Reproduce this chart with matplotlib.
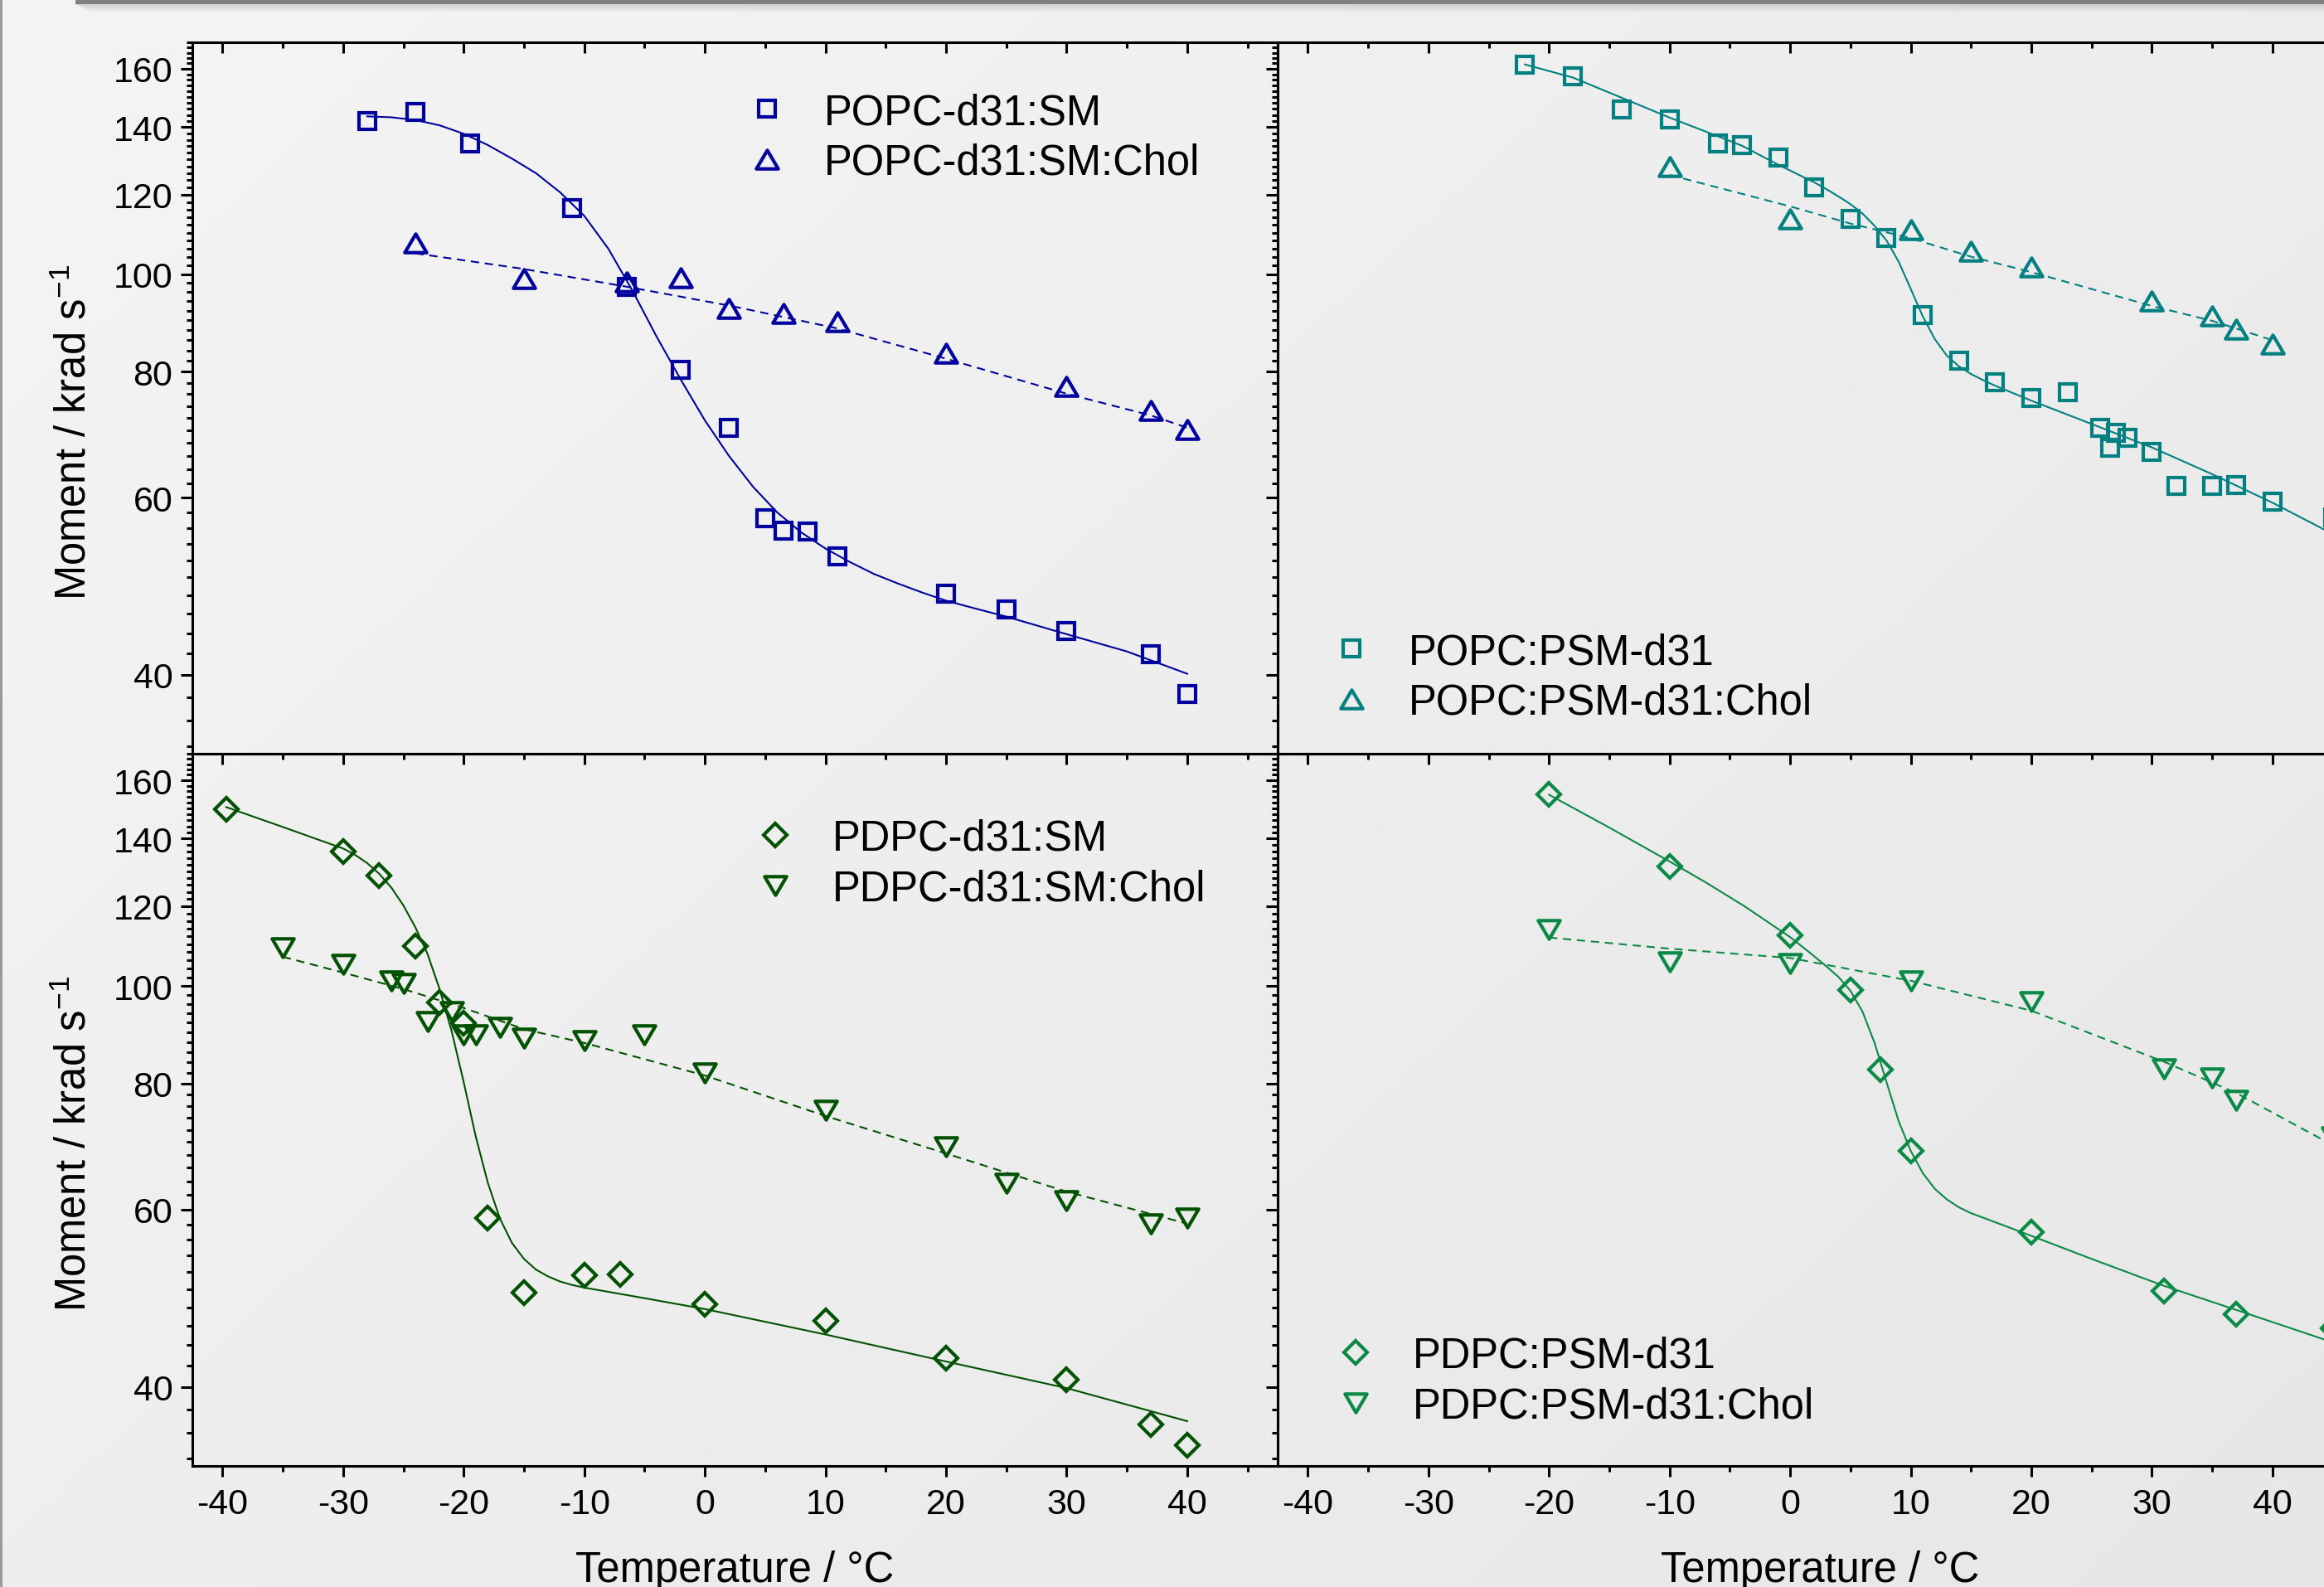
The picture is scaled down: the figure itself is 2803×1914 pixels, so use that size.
import numpy as np
import matplotlib
matplotlib.use('Agg')
import matplotlib.pyplot as plt
from matplotlib.path import Path
from matplotlib.patches import Rectangle
from matplotlib.ticker import FixedLocator, NullFormatter

plt.rcParams['font.family'] = ['Liberation Sans', 'DejaVu Sans']
plt.rcParams['axes.unicode_minus'] = False
plt.rcParams['mathtext.fontset'] = 'custom'
plt.rcParams['mathtext.rm'] = 'Liberation Sans'

# ---- data (T in degC, moment in krad/s) ----
# top left: POPC-d31:SM / POPC-d31:SM:Chol
t_popc_sm = [-28, -24, -19.5, -11, -6.5, -2, 2, 5, 6.5, 8.5, 11, 20, 25, 30, 37, 40]
m_popc_sm = [141.9, 144.9, 134.9, 116.4, 97.2, 80.3, 70.4, 57.2, 55.6, 55.5, 52.5, 48.2, 46.5, 44.2, 41.9, 38.3]
t_popc_chol = [-24, -15, -6.5, -2, 2, 6.5, 11, 20, 30, 37, 40]
m_popc_chol = [107.4, 99.1, 98.3, 99.2, 92.4, 91.5, 89.7, 83.5, 77.4, 73.2, 70.1]
fit_t_popc_sm = [-28, -26, -24, -22, -20, -18, -16, -14, -12, -10, -8, -6, -4, -2, 0, 2, 4, 6, 8,
                 10, 12, 14, 16, 18, 20, 22, 25, 30, 35, 40]
fit_m_popc_sm = [143.5, 143.2, 142.3, 140.6, 137.9, 134.4, 130.3, 126.0, 120.6, 114.3, 106.0, 96.3, 86.7,
                 78.6, 71.6, 66.0, 61.5, 58.0, 55.4, 53.4, 51.8, 50.4, 49.3, 48.3, 47.4, 46.7, 45.7, 43.9, 42.2, 40.1]
fit_t_popc_chol = [-24, -15.2, -6.5, 2.2, 10.9, 19.6, 30, 37, 40]
fit_m_popc_chol = [104.9, 101.3, 97.2, 93, 88.4, 82.7, 76.1, 72.4, 70.4]

# top right: POPC:PSM-d31 / POPC:PSM-d31:Chol
t_psm = [-22, -18, -14, -10, -6, -4, -1, 2, 5, 8, 11, 14, 17, 20, 23, 25.7, 26.5, 27, 28, 30, 32, 35, 37, 40, 45]
m_psm = [161.6, 157.3, 145.9, 142.6, 134.9, 134.4, 130.5, 122.1, 113.6, 108.6, 91.1, 82.1, 78.1, 75.3, 76.3,
         70.4, 67.3, 69.6, 68.8, 66.6, 61.6, 61.6, 61.8, 59.5, 57.3]
t_psm_chol = [-10, 0, 10, 15, 20, 30, 35, 37, 40]
m_psm_chol = [127.9, 113.6, 110.8, 105.4, 101.6, 94.0, 90.9, 88.2, 85.3]
fit_t_psm = [-22, -18, -14, -10, -7, -4, -1, 2, 3, 4, 5, 6, 7, 8, 9, 10, 11, 12, 13, 14, 15, 16, 17,
             20, 25, 30, 35, 40, 45]
fit_m_psm = [161.6, 156.8, 149.8, 143.1, 138.6, 134.2, 128.5, 123.4, 121.5, 119.5, 117.4, 114.9, 111.7,
             108.0, 102.9, 96.7, 90.8, 86.2, 83.0, 81.0, 79.6, 78.5, 77.5, 74.9, 71.0, 67.3, 63.3, 59.3, 55.2]
fit_t_psm_chol = [-10, 0, 5, 10, 15, 20, 30, 35, 40]
fit_m_psm_chol = [125.5, 116.8, 112.3, 108.6, 104.1, 100.5, 93, 89.9, 86]

# bottom left: PDPC-d31:SM / PDPC-d31:SM:Chol
t_pdpc_sm = [-39.7, -30, -27, -24, -22, -20, -18, -15, -10, -7, 0, 10, 20, 30, 37, 40]
m_pdpc_sm = [149.6, 136, 128.7, 109.5, 96.3, 91.9, 58.9, 49.6, 51.6, 51.7, 48.3, 46.5, 42.7, 40.7, 36.7, 35.0]
t_pdpc_chol = [-35, -30, -26, -25, -23, -21, -20, -19, -17, -15, -10, -5, 0, 10, 20, 25, 30, 37, 40]
m_pdpc_chol = [109.2, 105, 101.2, 100.5, 92.2, 94.3, 89.4, 89.4, 90.9, 88.7, 88.3, 89.4, 82, 75.3, 69.2, 63.7, 61.2, 58.1, 58.9]
fit_t_pdpc_sm = [-39.7, -37, -35, -32.5, -30, -29, -28, -27, -26, -25, -24, -23, -22, -21, -20, -19, -18,
                 -17, -16, -15, -14, -13, -12, -11, -10, -5, 0, 10, 20, 30, 40]
fit_m_pdpc_sm = [150.5, 146.6, 143.8, 140.3, 136.9, 134.9, 132.4, 129.2, 125.2, 120.2, 114.3, 107.6, 99.3,
                 90.2, 80.3, 70.9, 63.8, 58.8, 55.6, 53.6, 52.3, 51.5, 50.9, 50.5, 50.2, 49.0, 47.8, 45.1,
                 42.4, 39.9, 37.0]
fit_t_pdpc_chol = [-35, -30, -25, -20, -15, -10, 0, 10, 20, 30, 40]
fit_m_pdpc_chol = [106.9, 103.1, 99.3, 95.1, 90.6, 87.8, 81.5, 74.3, 68.2, 62.5, 58.1]

# bottom right: PDPC:PSM-d31 / PDPC:PSM-d31:Chol
t_pdpc_psm = [-20, -10, 0, 5, 7.5, 10, 20, 31, 37, 45]
m_pdpc_psm = [154.8, 131.4, 112.2, 99.1, 82.6, 68.6, 57.0, 49.8, 47.2, 45.7]
t_pdpc_psm_chol = [-20, -10, 0, 10, 20, 31, 35, 37, 45]
m_pdpc_psm_chol = [113.8, 105.6, 105.2, 101.2, 96.5, 82.8, 81, 77, 70.8]
fit_t_pdpc_psm = [-20, -15, -10, -7, -3.8, 0, 1.5, 3, 4, 5, 6, 7, 8, 9, 10, 11, 12, 13, 14, 15, 16,
                  20, 25, 31, 37, 45]
fit_m_pdpc_psm = [154.8, 143.6, 132.9, 126.7, 120.0, 111.8, 108.2, 104.6, 102.1, 98.9, 94.3, 87.8, 80.2,
                  73.4, 68.6, 65.2, 62.9, 61.4, 60.3, 59.5, 58.9, 56.5, 53.6, 50.4, 47.7, 44.3]
fit_t_pdpc_psm_chol = [-20, -10, 0, 10, 20, 31, 37, 45]
fit_m_pdpc_psm_chol = [111.7, 108.9, 106.6, 101.2, 94.5, 84.1, 78.3, 69.5]

y_major = [40, 60, 80, 100, 120, 140, 160]
y_minor = [v for v in range(34, 171, 2) if v not in y_major]
x_major = [-40, -30, -20, -10, 0, 10, 20, 30, 40]
x_minor = [-35, -25, -15, -5, 5, 15, 25, 35, 45]

# wider, flatter triangles like the original symbols
tri_up = Path([(-1, -0.85), (1, -0.85), (0, 0.85), (-1, -0.85)],
              [Path.MOVETO, Path.LINETO, Path.LINETO, Path.CLOSEPOLY])
tri_dn = Path([(-1, 0.85), (1, 0.85), (0, -0.85), (-1, 0.85)],
              [Path.MOVETO, Path.LINETO, Path.LINETO, Path.CLOSEPOLY])

W, H = 2803, 1915
fig = plt.figure(figsize=(W / 100, H / 100), dpi=100)

# background: soft grey gradient, top bar with shadow, left border
bg = fig.add_axes([0, 0, 1, 1], zorder=-1)
yy, xx = np.mgrid[0:1:200j, 0:1:300j]
bg.imshow(0.955 - 0.03 * xx - 0.022 * yy, cmap='gray', vmin=0, vmax=1,
          extent=[0, W, H, 0], aspect='auto', interpolation='bilinear')
bg.set_xlim(0, W)
bg.set_ylim(H, 0)
bg.axis('off')
bg.add_patch(Rectangle((91, 0), W, 5.5, color='#808080', lw=0))
bg.add_patch(Rectangle((91, 5.5), W, 1.5, color='#d4d4d4', lw=0))
for i in range(9):
    bg.add_patch(Rectangle((95 + 2 * i, 7 + i), W, 1, color='black', alpha=0.12 * (1 - i / 9), lw=0))
bg.add_patch(Rectangle((0, 0), 3, H, color='#9a9a9a', lw=0))

xl, xr, pw = 232 / W, 1541 / W, 1309 / W
pos = {
    'tl': [xl, (H - 910) / H, pw, 858 / H],
    'tr': [xr, (H - 910) / H, pw, 858 / H],
    'bl': [xl, (H - 1769) / H, pw, 859 / H],
    'br': [xr, (H - 1769) / H, pw, 859 / H],
}

LW = 2.2


def panel(key, col, pts1, pts2, fit1, fit2, mk1, mk2, labels, leg_at):
    ax = fig.add_axes(pos[key])
    ax.set_facecolor('none')
    ax.plot(fit1[0], fit1[1], color=col, lw=1.5, zorder=2)
    ax.plot(fit2[0], fit2[1], color=col, lw=1.5, ls=(0, (4.8, 3.3)), zorder=2)
    ms1 = 19 if isinstance(mk1, Path) else 14.5
    ms2 = 19 if isinstance(mk2, Path) else 14.5
    h1, = ax.plot(pts1[0], pts1[1], ls='none', marker=mk1, ms=ms1, mfc='none', mec=col, mew=3.0, zorder=3)
    h2, = ax.plot(pts2[0], pts2[1], ls='none', marker=mk2, ms=ms2, mfc='none', mec=col, mew=3.0, zorder=3)

    ax.set_yscale('log')
    ax.set_xlim(-42.5, 47.5)
    ax.set_ylim(33.4, 170)
    ax.set_yticks(y_major, labels=[str(v) for v in y_major])
    ax.yaxis.set_minor_locator(FixedLocator(y_minor))
    ax.yaxis.set_minor_formatter(NullFormatter())
    ax.set_xticks(x_major, labels=[str(v) for v in x_major])
    ax.xaxis.set_minor_locator(FixedLocator(x_minor))
    for s in ax.spines.values():
        s.set_linewidth(LW)

    left = key.endswith('l')
    top = key.startswith('t')
    ax.tick_params(axis='y', which='both', direction='out', left=True, right=False,
                   width=LW, labelleft=left, labelsize=31, pad=7)
    ax.tick_params(axis='y', which='major', length=10)
    ax.tick_params(axis='y', which='minor', length=5)
    if top:
        ax.tick_params(axis='x', which='both', direction='in', top=True, bottom=False,
                       labelbottom=False, width=LW)
    else:
        ax.tick_params(axis='x', which='both', direction='out', top=False, bottom=True,
                       labelbottom=True, labelsize=31, pad=9, width=LW)
        sec = ax.secondary_xaxis('top')
        sec.set_xticks(x_major)
        sec.xaxis.set_minor_locator(FixedLocator(x_minor))
        sec.tick_params(axis='x', which='both', direction='in', labeltop=False, width=LW)
        sec.tick_params(axis='x', which='major', length=9.5)
        sec.tick_params(axis='x', which='minor', length=5)
        sec.spines['top'].set_linewidth(LW)
        ax.set_xlabel('Temperature / °C', fontsize=36.5)
        ax.xaxis.set_label_coords(0.5, -0.1176)
    ax.tick_params(axis='x', which='major', length=9.5)
    ax.tick_params(axis='x', which='minor', length=5)

    if left:
        ax.set_ylabel('Moment / krad s$^{\\mathregular{-1}}$', fontsize=36.5)
        ax.yaxis.set_label_coords(-0.0898, 0.4526 if top else 0.454)

    ax.legend([h1, h2], labels, loc='upper left', bbox_to_anchor=leg_at, frameon=False,
              borderpad=0, borderaxespad=0, handlelength=1.0, handletextpad=0.86,
              labelspacing=0.23, numpoints=1, fontsize=36.5)
    return ax


panel('tl', '#00009e', (t_popc_sm, m_popc_sm), (t_popc_chol, m_popc_chol),
      (fit_t_popc_sm, fit_m_popc_sm), (fit_t_popc_chol, fit_m_popc_chol),
      's', tri_up, ['POPC-d31:SM', 'POPC-d31:SM:Chol'], (0.5103, 0.930))
panel('tr', '#008080', (t_psm, m_psm), (t_psm_chol, m_psm_chol),
      (fit_t_psm, fit_m_psm), (fit_t_psm_chol, fit_m_psm_chol),
      's', tri_up, ['POPC:PSM-d31', 'POPC:PSM-d31:Chol'], (0.0486, 0.1713))
panel('bl', '#005200', (t_pdpc_sm, m_pdpc_sm), (t_pdpc_chol, m_pdpc_chol),
      (fit_t_pdpc_sm, fit_m_pdpc_sm), (fit_t_pdpc_chol, fit_m_pdpc_chol),
      'D', tri_dn, ['PDPC-d31:SM', 'PDPC-d31:SM:Chol'], (0.5179, 0.9095))
panel('br', '#0a8a46', (t_pdpc_psm, m_pdpc_psm), (t_pdpc_psm_chol, m_pdpc_psm_chol),
      (fit_t_pdpc_psm, fit_m_pdpc_psm), (fit_t_pdpc_psm_chol, fit_m_pdpc_psm_chol),
      'D', tri_dn, ['PDPC:PSM-d31', 'PDPC:PSM-d31:Chol'], (0.0524, 0.1828))

fig.savefig('out.png', dpi=100)
